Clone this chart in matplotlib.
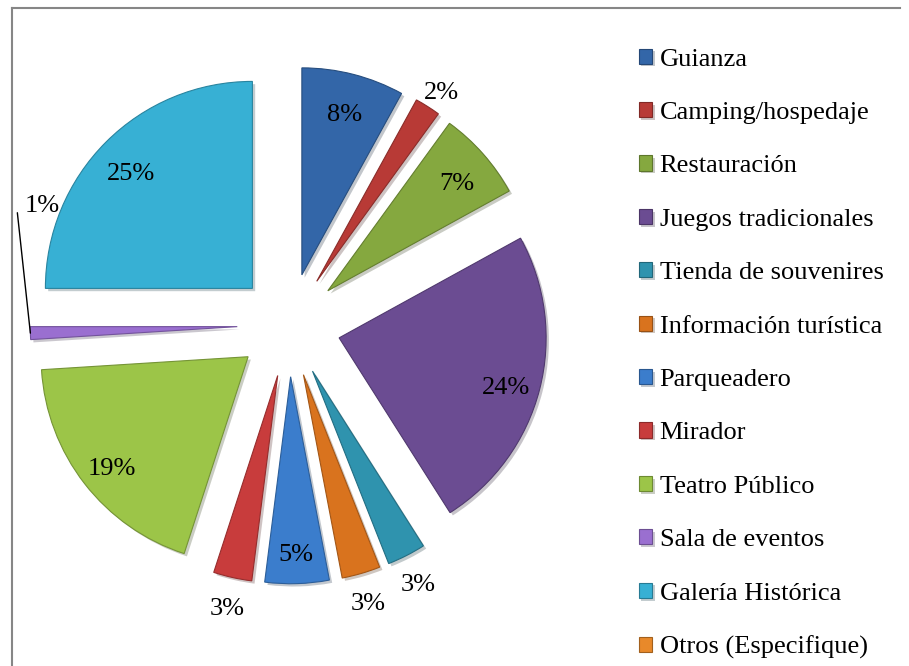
import matplotlib
matplotlib.use("Agg")
import matplotlib.pyplot as plt
import matplotlib.patheffects as pe
from matplotlib.colors import to_rgb
from matplotlib.lines import Line2D
import numpy as np

plt.rcParams['font.family'] = ['Liberation Serif', 'DejaVu Serif']

categorias = ['Guianza', 'Camping/hospedaje', 'Restauración', 'Juegos tradicionales',
              'Tienda de souvenires', 'Información turística', 'Parqueadero', 'Mirador',
              'Teatro Público', 'Sala de eventos', 'Galería Histórica', 'Otros (Especifique)']
porcentajes = [8, 2, 7, 24, 3, 3, 5, 3, 19, 1, 25, 0]
colores = ['#3366A8', '#B83A36', '#85A83F', '#6B4C92', '#2F93AE', '#D9731E',
           '#3B7DCC', '#C83C3C', '#9CC548', '#9A6FD0', '#37B0D4', '#E8892A']

fig = plt.figure(figsize=(9.09, 6.66), dpi=100)
ax = fig.add_axes([0, 0, 1, 1])

wedges, _ = ax.pie(porcentajes, colors=colores, startangle=90, counterclock=False,
                   explode=[0.25] * len(porcentajes),
                   wedgeprops=dict(linewidth=0.8))
for w, c, v in zip(wedges, colores, porcentajes):
    w.set_edgecolor(tuple(x * 0.75 for x in to_rgb(c)))
    if v == 0:
        w.set_linewidth(0)
        continue
    w.set_path_effects([pe.SimplePatchShadow(offset=(2, -2), alpha=0.25),
                        pe.Normal()])

# 1 data unit = 207 px, pie centre at (289, 325) px
ax.set_xlim(-289 / 207, (909 - 289) / 207)
ax.set_ylim(-(666 - 325) / 207, 325 / 207)
ax.axis('off')

for w, v in zip(wedges, porcentajes):
    if v == 0:
        continue
    ang = np.deg2rad((w.theta1 + w.theta2) / 2)
    cx, cy = w.center
    if v == 1:
        tip = (cx + np.cos(ang), cy + np.sin(ang))
        ax.annotate(f'{v}%', xy=tip, xytext=(-6, 127), textcoords='offset pixels',
                    ha='left', va='center', fontsize=19,
                    arrowprops=dict(arrowstyle='-', color='black', lw=1,
                                    relpos=(-0.2, 0.2), shrinkA=0, shrinkB=0))
        continue
    d = 0.83 if v >= 5 else 1.12
    ax.annotate(f'{v}%', xy=(cx + d * np.cos(ang), cy + d * np.sin(ang)),
                xytext=(0, -7), textcoords='offset pixels',
                ha='center', va='center', fontsize=19)

leg = fig.legend(wedges, categorias, loc='upper left',
                 bbox_to_anchor=(628 / 909, 1 - 38 / 666),
                 frameon=False, fontsize=19, handlelength=0.5, handleheight=0.5,
                 handletextpad=0.3, labelspacing=1.19, borderaxespad=0)
for h, c in zip(leg.legend_handles, colores):
    h.set_linewidth(0.8)
    h.set_edgecolor(tuple(x * 0.7 for x in to_rgb(c)))

fig.add_artist(Line2D([12 / 909, 12 / 909], [0, 1 - 8 / 666], color='#868686', lw=1.5))
fig.add_artist(Line2D([12 / 909, 900 / 909], [1 - 8 / 666, 1 - 8 / 666], color='#868686', lw=1.5))

fig.savefig('out.png', dpi=100)
